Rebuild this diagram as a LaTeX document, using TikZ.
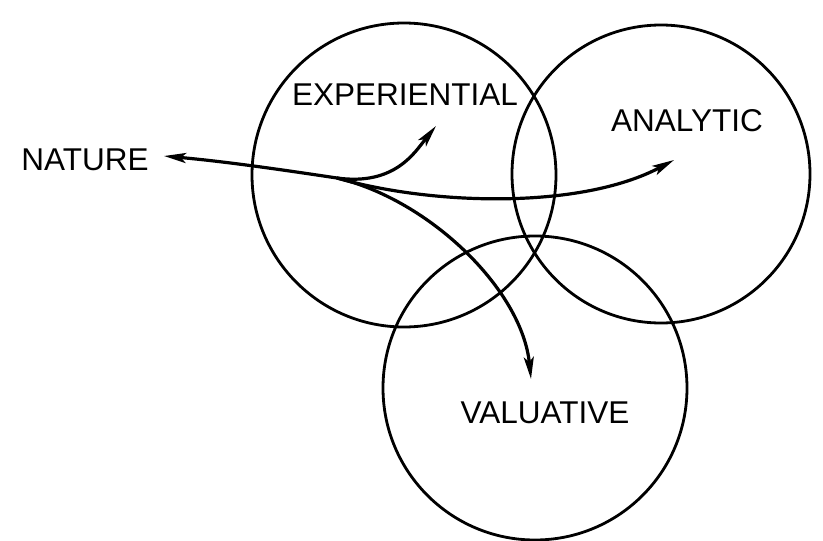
\documentclass[tikz,border=0pt]{standalone}
\usepackage{fontspec}
\setmainfont{Liberation Sans}
\usetikzlibrary{arrows.meta}
\begin{document}
\begin{tikzpicture}[x=1pt,y=-1pt,
  ring/.style={circle,draw=black,line width=2.8pt,inner sep=0pt},
  lab/.style={font=\fontsize{31.5}{36}\selectfont,inner sep=0pt},
  flow/.style={line width=3.2pt,-{Stealth[length=22pt,width=10pt,inset=5pt]}}]
\useasboundingbox (0,0) rectangle (823,541);
\fill[white] (0,0) rectangle (823,541);
\node[ring,minimum size=304pt] (exp) at (404,175) {};
\node[ring,minimum size=298pt] (ana) at (661,174) {};
\node[ring,minimum size=304pt] (val) at (535,388) {};
\node[lab] (natureL) at (85,160) {NATURE};
\node[lab] (expL) at (405,95) {EXPERIENTIAL};
\node[lab] (anaL) at (687,121) {ANALYTIC};
\node[lab] (valL) at (545,413) {VALUATIVE};
\coordinate (b) at (337,178);
\coordinate (tN) at (164,156);
\coordinate (tE) at (436,126);
\coordinate (tA) at (674,160);
\coordinate (tV) at (531,379);
\draw[flow] (b) .. controls (290,171) and (230,162) .. (tN);
\draw[flow] (b) .. controls (395,186) and (415,152) .. (tE);
\draw[flow] (b) .. controls (430,205) and (580,210) .. (tA);
\draw[flow] (b) .. controls (430,200) and (522,290) .. (tV);
\end{tikzpicture}
\end{document}
